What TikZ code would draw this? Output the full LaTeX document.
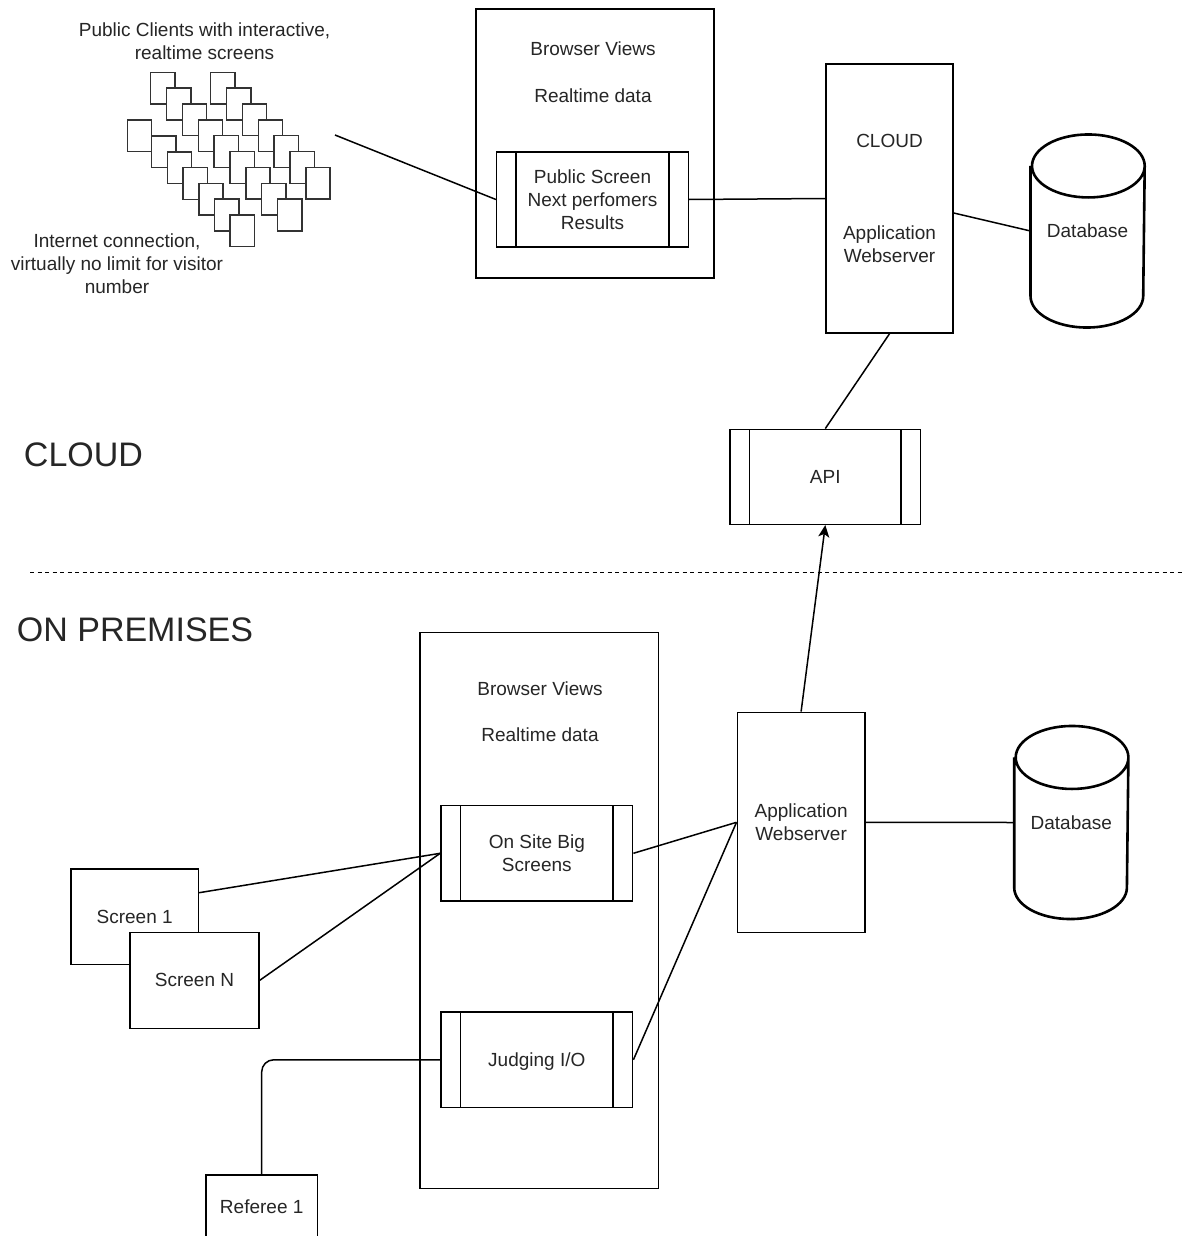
\documentclass[tikz,border=0pt]{standalone}
\usepackage{fontspec}
\setmainfont{Liberation Sans}
\usetikzlibrary{arrows.meta}

% database drum drawn round a plain node
\newcommand\dbdrum[1]{%
  \draw[line width=2.6pt]
    ([yshift=-31.5pt]#1.north west) -- ([yshift=31.5pt]#1.south west)
    arc[start angle=180,end angle=360,x radius=56.35pt,y radius=31.5pt]
    -- ([yshift=-31.5pt]#1.north east)
    arc[start angle=0,end angle=180,x radius=56.35pt,y radius=31.5pt]
    arc[start angle=180,end angle=360,x radius=56.35pt,y radius=31.5pt];}

\begin{document}
\begin{tikzpicture}[x=1pt,y=-1pt,line width=1.5pt,
    font=\fontsize{19}{23}\selectfont,
    every node/.style={text=black!85},
    box/.style={draw,fill=white,align=center,inner sep=0pt,text depth=0pt},
    proc/.style={box,minimum width=191.7pt,minimum height=95.3pt,
      path picture={
        \draw ([xshift=19.5pt]path picture bounding box.north west) -- ([xshift=19.5pt]path picture bounding box.south west);
        \draw ([xshift=-19.5pt]path picture bounding box.north east) -- ([xshift=-19.5pt]path picture bounding box.south east);}},
    sheet/.style={draw=black!80,fill=white,minimum width=24.3pt,minimum height=31.7pt,inner sep=0pt},
    lbl/.style={align=center,inner sep=0pt,text depth=0pt},
    zone/.style={lbl,font=\fontsize{34}{40}\selectfont},
    db/.style={minimum width=112.7pt,minimum height=191.6pt,inner sep=0pt,text depth=0pt}]
  \useasboundingbox[fill=white] (0,0) rectangle (1182,1236);

  % public clients
  \node[lbl] (pubcl) at (204.5,41) {Public Clients with interactive,\\realtime screens};
  \foreach \k in {0,...,8}
    \node[sheet] (sa\k) at ({162.85+15.85*\k},{88.15+15.85*\k}) {};
  \foreach \k in {0,...,6}
    \node[sheet] (sb\k) at ({222.85+15.85*\k},{88.15+15.85*\k}) {};
  \node[sheet] (sc) at (139.45,135.85) {};
  \foreach \k in {0,...,5}
    \node[sheet] (sc\k) at ({163.85+15.7*\k},{151.85+15.8*\k}) {};
  \node[lbl] (inet) at (117,263.3) {Internet connection,\\virtually no limit for visitor\\number};
  \coordinate (clients) at (335,135);

  % cloud
  \node[box,minimum width=238pt,minimum height=269pt] (webc) at (595,143.5) {};
  \node[lbl] (webct) at (593,49) {Browser Views};
  \node[lbl] (webcd) at (593,96) {Realtime data};
  \node[proc] (pub) at (592.5,199.5) {Public Screen\\Next perfomers\\Results};
  \node[box,minimum width=127pt,minimum height=269pt] (appc) at (889.5,198.5) {CLOUD\\[69pt]Application\\Webserver};
  \node[db] (dbc) at (1087.6,231) {Database};
  \dbdrum{dbc}
  \node[proc,minimum width=190.7pt,minimum height=95pt] (api) at (825.3,476.8) {API};

  \node[zone] (cloud) at (83.5,454.7) {CLOUD};
  \draw[dash pattern=on 4pt off 3.5pt] (30,572.3) -- (1182,572.3);
  \node[zone] (onprem) at (135,629.7) {ON PREMISES};

  % on premises
  \node[box,minimum width=238.7pt,minimum height=555.6pt] (webo) at (539.3,910.5) {};
  \node[lbl] (webot) at (540,689) {Browser Views};
  \node[lbl] (webod) at (540,735) {Realtime data};
  \node[proc] (big) at (536.8,853.3) {On Site Big\\Screens};
  \node[proc] (judge) at (536.8,1059.8) {Judging I/O};
  \node[box,minimum width=127.7pt,minimum height=220pt] (appo) at (801.1,822.3) {Application\\Webserver};
  \node[db] (dbo) at (1071.3,822.5) {Database};
  \dbdrum{dbo}
  \node[box,minimum width=127.3pt,minimum height=95.3pt] (scr1) at (134.7,916.7) {Screen 1};
  \node[box,minimum width=129pt,minimum height=96pt] (scrn) at (194.5,980.3) {Screen N};
  \node[box,minimum width=111.3pt,minimum height=64pt] (ref) at (261.7,1207) {Referee 1};

  % links
  \draw (clients) -- (pub.west);
  \draw (pub.east) -- (appc.west);
  \draw ([yshift=-14.5pt]appc.east) -- (dbc.west);
  \draw (api.north) -- (appc.south);
  \draw[-{Stealth[length=12pt,width=11pt,inset=3pt]}] (appo.north) -- (api.south);
  \draw (appo.east) -- (dbo.west);
  \draw ([yshift=24pt]scr1.east) -- (big.west);
  \draw (scrn.east) -- (big.west);
  \draw[rounded corners=12pt] (ref.north) |- (judge.west);
  \draw (big.east) -- (appo.west);
  \draw (judge.east) -- (appo.west);
\end{tikzpicture}
\end{document}
